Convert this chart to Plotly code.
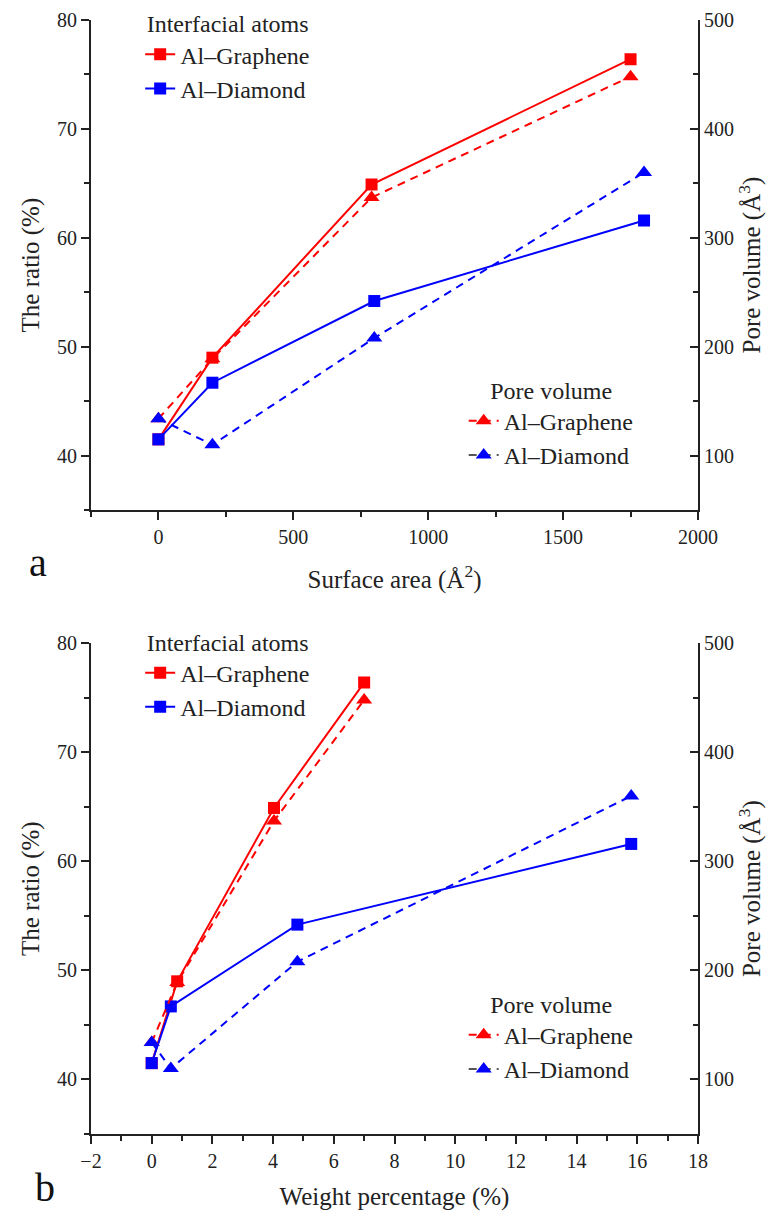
import plotly.graph_objects as go
from plotly.subplots import make_subplots

# ---- data ----
surf_graphene = [0, 200, 790, 1750]
surf_diamond = [0, 200, 800, 1800]
wt_graphene = [0, 0.84, 4.03, 7.0]
wt_diamond = [0, 0.63, 4.8, 15.8]
ratio_graphene = [41.5, 49.0, 64.9, 76.4]
ratio_diamond = [41.5, 46.7, 54.2, 61.6]
pore_graphene = [134, 189, 337, 448]
pore_diamond = [134, 110, 208, 360]

RED = "#ff0000"
BLUE = "#0000ff"
FONT = "Liberation Serif"
DASH = "8px,6px"
SQ = 12
TRI = 14

fig = make_subplots(rows=2, cols=1, specs=[[{"secondary_y": True}], [{"secondary_y": True}]])


def add_panel(row, xg, xd, lg_a, lg_b):
    fig.add_trace(go.Scatter(x=xg, y=ratio_graphene, mode="lines+markers", name="Al\u2013Graphene",
                             line=dict(color=RED, width=2), marker=dict(symbol="square", size=SQ, color=RED),
                             legend=lg_a, legendgroup=lg_a + "g"), row=row, col=1, secondary_y=False)
    fig.add_trace(go.Scatter(x=xg, y=pore_graphene, mode="lines+markers", name="Al\u2013Graphene",
                             line=dict(color=RED, width=2, dash=DASH), marker=dict(symbol="triangle-up", size=TRI, color=RED),
                             legend=lg_b, legendgroup=lg_b + "g"), row=row, col=1, secondary_y=True)
    fig.add_trace(go.Scatter(x=xd, y=ratio_diamond, mode="lines+markers", name="Al\u2013Diamond",
                             line=dict(color=BLUE, width=2), marker=dict(symbol="square", size=SQ, color=BLUE),
                             legend=lg_a, legendgroup=lg_a + "d"), row=row, col=1, secondary_y=False)
    fig.add_trace(go.Scatter(x=xd, y=pore_diamond, mode="lines+markers", name="Al\u2013Diamond",
                             line=dict(color=BLUE, width=2, dash=DASH), marker=dict(symbol="triangle-up", size=TRI, color=BLUE),
                             showlegend=False), row=row, col=1, secondary_y=True)
    # legend-only entry (grey dashed line, blue triangle) as in the original
    fig.add_trace(go.Scatter(x=[None], y=[None], mode="lines+markers", name="Al\u2013Diamond",
                             line=dict(color="#555555", width=2, dash=DASH),
                             marker=dict(symbol="triangle-up", size=TRI, color=BLUE),
                             legend=lg_b, legendgroup=lg_b + "d"), row=row, col=1, secondary_y=True)


add_panel(1, surf_graphene, surf_diamond, "legend", "legend2")
add_panel(2, wt_graphene, wt_diamond, "legend3", "legend4")

axis_common = dict(showline=True, linewidth=2, linecolor="#222", showgrid=False, zeroline=False,
                   ticks="outside", ticklen=8, tickwidth=2, tickcolor="#222", automargin=False,
                   tickfont=dict(family=FONT, size=20, color="#222"),
                   title_font=dict(family=FONT, size=25, color="#222"))

top_dom = [0.560, 1.0]
bot_dom = [0.0, 0.4405]

fig.update_layout(
    xaxis=dict(axis_common, domain=[0, 1], range=[-250, 2000], tick0=0, dtick=500,
               minor=dict(dtick=250, ticks="outside", ticklen=5, tickwidth=2, tickcolor="#222"),
               title=dict(text="Surface area (\u00c5<sup>2</sup>)", standoff=23)),
    yaxis=dict(axis_common, domain=top_dom, range=[35, 80], tick0=0, dtick=10,
               minor=dict(dtick=5, ticks="outside", ticklen=5, tickwidth=2, tickcolor="#222"),
               title=dict(text="The ratio (%)", standoff=10)),
    yaxis2=dict(axis_common, domain=top_dom, range=[50, 500], tick0=0, dtick=100, ticks="inside",
                minor=dict(dtick=50, ticks="inside", ticklen=5, tickwidth=2, tickcolor="#222"),
                title=dict(text="Pore volume (\u00c5<sup>3</sup>)", standoff=8)),
    xaxis2=dict(axis_common, domain=[0, 1], range=[-2, 18], tick0=0, dtick=2,
                minor=dict(dtick=1, ticks="outside", ticklen=5, tickwidth=2, tickcolor="#222"),
                title=dict(text="Weight percentage (%)", standoff=17)),
    yaxis3=dict(axis_common, domain=bot_dom, range=[35, 80], tick0=0, dtick=10,
                minor=dict(dtick=5, ticks="outside", ticklen=5, tickwidth=2, tickcolor="#222"),
                title=dict(text="The ratio (%)", standoff=10)),
    yaxis4=dict(axis_common, domain=bot_dom, range=[50, 500], tick0=0, dtick=100, ticks="inside",
                minor=dict(dtick=50, ticks="inside", ticklen=5, tickwidth=2, tickcolor="#222"),
                title=dict(text="Pore volume (\u00c5<sup>3</sup>)", standoff=8)),
)

leg_common = dict(bgcolor="rgba(0,0,0,0)", font=dict(family=FONT, size=24, color="#222"),
                  tracegroupgap=0, xanchor="left", yanchor="top", itemclick=False)


def leg(title, x, y):
    d = dict(leg_common, x=x, y=y)
    d["title"] = dict(text=title, side="top center", font=dict(family=FONT, size=24, color="#222"))
    return d


fig.update_layout(
    legend=leg("Interfacial atoms", 0.081, 1.017),
    legend2=leg("Pore volume", 0.614, 0.688),
    legend3=leg("Interfacial atoms", 0.081, 0.462),
    legend4=leg("Pore volume", 0.614, 0.137),
)

fig.add_annotation(text="a", xref="paper", yref="paper", x=-0.105, y=(1211 - 77 - 562) / 1114,
                   showarrow=False, font=dict(family=FONT, size=40, color="#111"), xanchor="left", yanchor="middle")
fig.add_annotation(text="b", xref="paper", yref="paper", x=-0.095, y=(1211 - 77 - 1187) / 1114,
                   showarrow=False, font=dict(family=FONT, size=40, color="#111"), xanchor="left", yanchor="middle")

fig.update_layout(width=777, height=1211, margin=dict(l=91, r=79, t=20, b=77, autoexpand=False),
                  plot_bgcolor="white", paper_bgcolor="white", showlegend=True)

fig.write_html("out.html")
